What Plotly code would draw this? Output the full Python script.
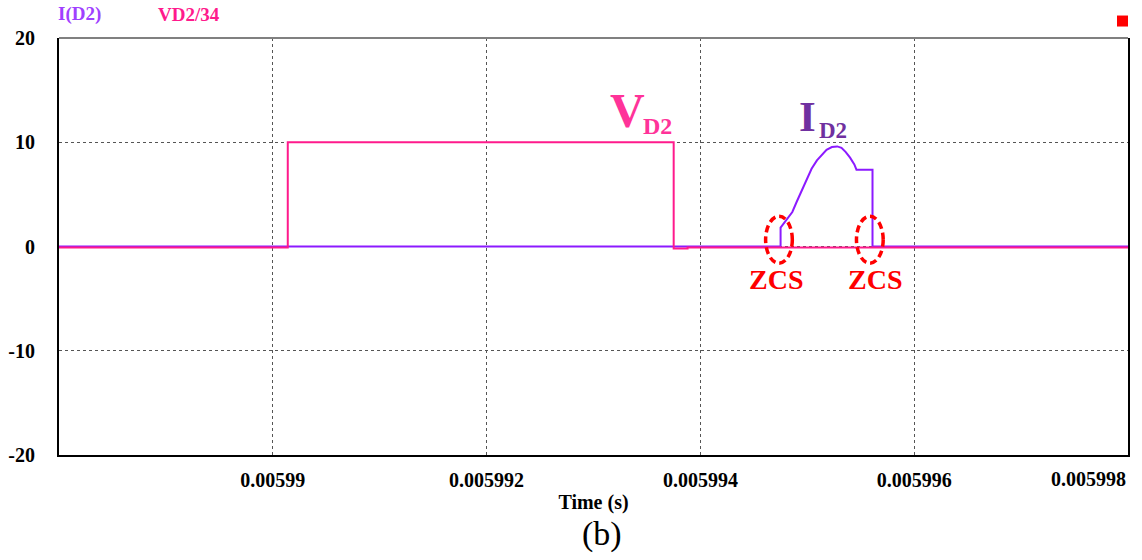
import plotly.graph_objects as go

# Diode D2 waveforms over one switching interval (PSIM-style plot)
t_vd2 = [0.005988, 0.00599014, 0.00599014, 0.00599375, 0.00599375, 0.00599388, 0.00599388, 0.005998]
v_vd2 = [-0.1, -0.1, 10.0, 10.0, -0.2, -0.2, -0.1, -0.1]

t_id2 = [0.005988, 0.00599475, 0.00599475, 0.00599479, 0.00599486, 0.00599490, 0.00599495,
         0.00599500, 0.00599504, 0.00599509, 0.00599514, 0.00599518, 0.00599523, 0.00599528,
         0.00599532, 0.00599536, 0.00599540, 0.00599544, 0.00599546, 0.00599561, 0.00599561,
         0.005998]
i_id2 = [0.0, 0.0, 1.81, 2.35, 3.31, 4.27, 5.39,
         6.51, 7.46, 8.26, 8.84, 9.28, 9.54, 9.60,
         9.47, 9.06, 8.52, 7.88, 7.37, 7.37, 0.0,
         0.0]

x_ticks = [0.00599, 0.005992, 0.005994, 0.005996]
x_tick_text = ["0.00599", "0.005992", "0.005994", "0.005996"]
x_last_tick = 0.005998
x_last_text = "0.005998"
y_ticks = [20, 10, 0, -10, -20]
y_tick_text = ["20", "10", "0", "-10", "-20"]

# ZCS marker regions: (t_start, t_end, y_low, y_high)
zcs_regions = [(0.00599461, 0.00599486, -1.6, 2.9),
               (0.00599546, 0.00599571, -1.6, 2.9)]
zcs_label_t = [0.00599471, 0.00599563]
zcs_label_y = -3.2

SERIF = "Liberation Serif"
PINK = "#ff1a8c"
VIOLET = "#8c1aff"

fig = go.Figure()
# current first, scaled diode voltage drawn over it
fig.add_trace(go.Scatter(x=t_id2, y=i_id2, mode="lines", name="I(D2)",
                         line=dict(color=VIOLET, width=2)))
fig.add_trace(go.Scatter(x=t_vd2, y=v_vd2, mode="lines", name="VD2/34",
                         line=dict(color=PINK, width=2)))

grid = dict(showgrid=True, gridcolor="#555555", gridwidth=1, griddash="3px,3px")

fig.update_xaxes(range=[0.005988, 0.005998], tickvals=x_ticks, ticktext=x_tick_text,
                 tickfont=dict(family=SERIF, size=20, color="black", weight="bold"),
                 ticks="", ticklabelstandoff=6, automargin=False,
                 showline=True, linecolor="black", linewidth=2, zeroline=False,
                 title=dict(text="Time (s)", standoff=5,
                            font=dict(family=SERIF, size=20, color="black", weight="bold")),
                 **grid)
fig.update_yaxes(range=[-20, 20], tickvals=y_ticks, ticktext=y_tick_text,
                 tickfont=dict(family=SERIF, size=20, color="black", weight="bold"),
                 ticks="", ticklabelstandoff=18, automargin=False,
                 showline=True, linecolor="black", linewidth=2, mirror=True, zeroline=False,
                 **grid)

annotations = [
    # last time tick, right-aligned to the plot edge
    dict(x=x_last_tick, y=0, xref="x", yref="paper", text=x_last_text, showarrow=False,
         xanchor="right", yanchor="top", yshift=-11,
         font=dict(family=SERIF, size=20, color="black", weight="bold")),
    # trace names
    dict(x=-0.003, y=1.057, xref="paper", yref="paper", text="I(D2)", showarrow=False,
         xanchor="left", yanchor="middle",
         font=dict(family=SERIF, size=19, color="#a040ff", weight="bold")),
    dict(x=0.0905, y=1.057, xref="paper", yref="paper", text="VD2/34", showarrow=False,
         xanchor="left", yanchor="middle",
         font=dict(family=SERIF, size=19, color=PINK, weight="bold")),
    # V_D2 label
    dict(x=0.00599332, y=13.0, xref="x", yref="y", text="V", showarrow=False,
         xanchor="center", yanchor="middle",
         font=dict(family=SERIF, size=48, color="#ff3399", weight="bold")),
    dict(x=0.00599360, y=11.6, xref="x", yref="y", text="D2", showarrow=False,
         xanchor="center", yanchor="middle",
         font=dict(family=SERIF, size=24, color="#ff3399", weight="bold")),
    # I_D2 label
    dict(x=0.00599500, y=12.5, xref="x", yref="y", text="I", showarrow=False,
         xanchor="center", yanchor="middle",
         font=dict(family=SERIF, size=43, color="#7030a0", weight="bold")),
    dict(x=0.00599524, y=11.1, xref="x", yref="y", text="D2", showarrow=False,
         xanchor="center", yanchor="middle",
         font=dict(family=SERIF, size=23, color="#7030a0", weight="bold")),
    # figure caption
    dict(x=0.508, y=-0.1905, xref="paper", yref="paper", text="(b)", showarrow=False,
         xanchor="center", yanchor="middle",
         font=dict(family=SERIF, size=34, color="black")),
]
for tx in zcs_label_t:
    annotations.append(dict(x=tx, y=zcs_label_y, xref="x", yref="y", text="ZCS",
                            showarrow=False, xanchor="center", yanchor="middle",
                            font=dict(family=SERIF, size=28, color="#ff0000", weight="bold")))

shapes = [
    # top frame edge in grey
    dict(type="line", xref="paper", yref="paper", x0=0, x1=1, y0=1, y1=1,
         line=dict(color="#808080", width=2)),
    # red marker in the top-right corner
    dict(type="rect", xref="paper", yref="paper", x0=0.9897, x1=1.0, y0=1.0275, y1=1.0539,
         fillcolor="#ff0000", line=dict(width=0)),
]
for (x0, x1, y0, y1) in zcs_regions:
    shapes.append(dict(type="circle", xref="x", yref="y", x0=x0, x1=x1, y0=y0, y1=y1,
                       line=dict(color="#ff0000", width=3.5, dash="7px,4px")))

fig.update_layout(
    width=1142, height=560,
    margin=dict(l=59, r=14, t=38, b=105),
    paper_bgcolor="white", plot_bgcolor="white",
    showlegend=False,
    annotations=annotations,
    shapes=shapes,
)

fig.write_html("out.html")
